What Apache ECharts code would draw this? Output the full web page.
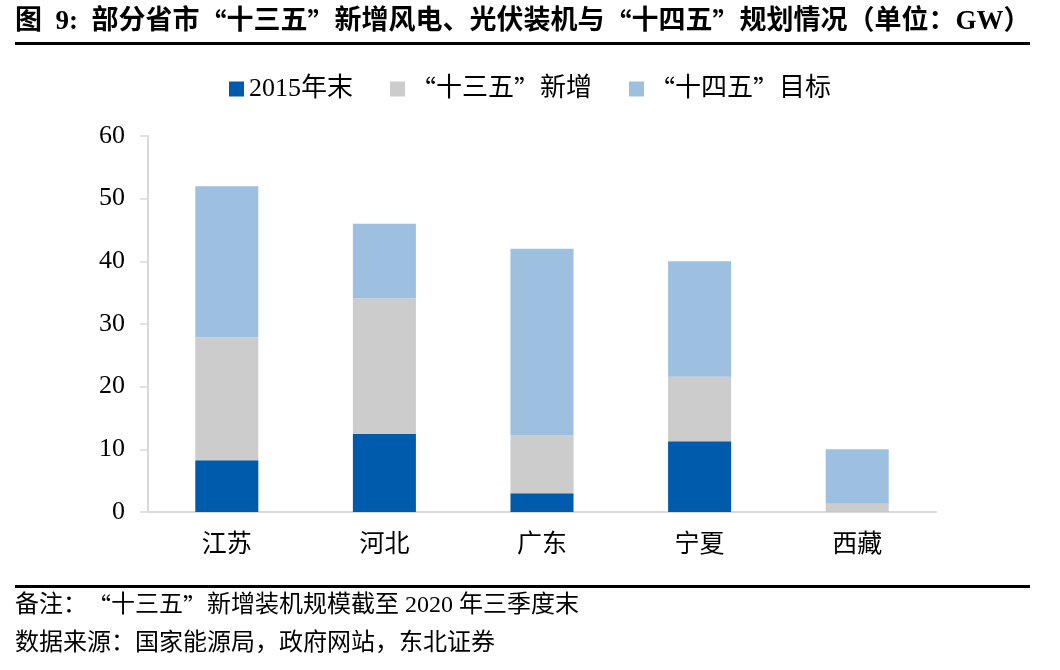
<!DOCTYPE html>
<html><head><meta charset="utf-8">
<script src="https://cdn.jsdelivr.net/npm/echarts@6/dist/echarts.min.js"></script>
<style>html,body{margin:0;padding:0;background:#fff}#c{width:1060px;height:670px}</style>
</head><body><div id="c"></div>
<script>
const categories = ['江苏','河北','广东','宁夏','西藏'];
const seriesNames = ['2015年末','“十三五”新增','“十四五”目标'];
const end2015 = [8.25, 12.5, 3.0, 11.3, 0.05];
const added135 = [19.65, 21.55, 9.2, 10.3, 1.25];
const target145 = [24.1, 11.95, 29.8, 18.4, 8.7];
const yTicks = [0, 10, 20, 30, 40, 50, 60];
const colors = ['#005BAC', '#CCCCCC', '#9DC0E0'];
const serif = '"Liberation Serif","Times New Roman","Noto Sans CJK SC",serif';
const cjk = '"Noto Sans CJK SC",sans-serif';

function wq(s) { return s.replace(/[“”]/g, m => '{q|' + m + '}'); }

const chart = echarts.init(document.getElementById('c'));
chart.setOption({
  animation: false,
  color: colors,
  textStyle: { fontFamily: serif },
  legend: {
    top: 71, left: 'center',
    itemWidth: 15, itemHeight: 15, itemGap: 37,
    icon: 'rect',
    formatter: n => wq(n),
    textStyle: { fontSize: 26, color: '#000', fontFamily: serif,
      rich: { q: { fontSize: 26, fontFamily: cjk, color: '#000' } } },
    data: seriesNames
  },
  grid: { left: 148, right: 124, top: 136, bottom: 158 },
  xAxis: {
    type: 'category', data: categories,
    axisLine: { lineStyle: { color: '#D9D9D9', width: 2 } },
    axisTick: { show: false },
    axisLabel: { fontSize: 25, color: '#000', margin: 21, fontFamily: serif }
  },
  yAxis: {
    type: 'value', min: yTicks[0], max: yTicks[yTicks.length - 1], interval: 10,
    axisLine: { show: true, lineStyle: { color: '#D9D9D9', width: 2 } },
    axisTick: { show: true, length: 8, lineStyle: { color: '#D9D9D9', width: 1.5 } },
    splitLine: { show: false },
    axisLabel: { fontSize: 26, color: '#000', margin: 23, fontFamily: serif }
  },
  series: [
    { name: seriesNames[0], type: 'bar', stack: 's', data: end2015, barWidth: '40%' },
    { name: seriesNames[1], type: 'bar', stack: 's', data: added135 },
    { name: seriesNames[2], type: 'bar', stack: 's', data: target145 }
  ],
  graphic: [
    { type: 'text', left: 15, top: 9,
      style: { text: wq('图  9:  部分省市“十三五”新增风电、光伏装机与“十四五”规划情况（单位：GW）'),
        fontSize: 27, fontWeight: 'bold', fill: '#000', fontFamily: serif,
        rich: { q: { fontSize: 27, fontWeight: 'bold', fontFamily: cjk, fill: '#000' } } } },
    { type: 'rect', shape: { x: 15, y: 42, width: 1015, height: 3 }, style: { fill: '#000' } },
    { type: 'rect', shape: { x: 15, y: 585, width: 1015, height: 3 }, style: { fill: '#000' } },
    { type: 'text', left: 15, top: 594,
      style: { text: wq('备注：“十三五”新增装机规模截至 2020 年三季度末'), fontSize: 24, fill: '#000', fontFamily: serif,
        rich: { q: { fontSize: 24, fontFamily: cjk, fill: '#000' } } } },
    { type: 'text', left: 15, top: 632,
      style: { text: '数据来源：国家能源局，政府网站，东北证券', fontSize: 24, fill: '#000', fontFamily: serif } }
  ]
});
</script>
</body></html>
